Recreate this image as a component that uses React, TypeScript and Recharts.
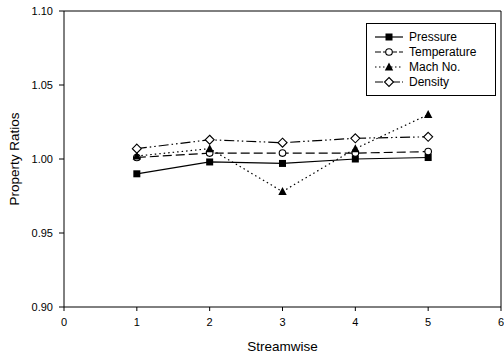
import React from 'react';
import { LineChart, Line, XAxis, YAxis, ReferenceLine } from 'recharts';

const streamwise = [1, 2, 3, 4, 5];
const pressure = [0.990, 0.998, 0.997, 1.000, 1.001];
const temperature = [1.001, 1.004, 1.004, 1.004, 1.005];
const machNo = [1.002, 1.007, 0.978, 1.007, 1.030];
const density = [1.007, 1.013, 1.011, 1.014, 1.015];
const xTicks = [0, 1, 2, 3, 4, 5, 6];
const yTicks = [0.9, 0.95, 1.0, 1.05, 1.1];

const data = streamwise.map((x, i) => ({
  x,
  pressure: pressure[i],
  temperature: temperature[i],
  mach: machNo[i],
  density: density[i],
}));

const FONT = '"Liberation Sans", Arial, sans-serif';

type Shape = 'square' | 'circle' | 'triangle' | 'diamond';

const Marker = ({ cx, cy, shape }: { cx: number; cy: number; shape: Shape }) => {
  if (cx == null || cy == null) return null;
  if (shape === 'square') return <rect x={cx - 3.5} y={cy - 3.5} width={7} height={7} fill="#000" />;
  if (shape === 'circle') return <circle cx={cx} cy={cy} r={3.3} fill="#fff" stroke="#000" strokeWidth={1.1} />;
  if (shape === 'triangle')
    return <path d={`M${cx},${cy - 4.5} L${cx + 4.2},${cy + 3.5} L${cx - 4.2},${cy + 3.5} Z`} fill="#000" />;
  return (
    <path
      d={`M${cx},${cy - 4.5} L${cx + 4.5},${cy} L${cx},${cy + 4.5} L${cx - 4.5},${cy} Z`}
      fill="#fff"
      stroke="#000"
      strokeWidth={1.1}
    />
  );
};

// legend dash is a tighter version of the line dash
const series: { key: string; name: string; dash?: string; legendDash?: string; shape: Shape }[] = [
  { key: 'pressure', name: 'Pressure', shape: 'square' },
  { key: 'temperature', name: 'Temperature', dash: '9 4', legendDash: '6 2', shape: 'circle' },
  { key: 'mach', name: 'Mach No.', dash: '1.5 3', legendDash: '1.5 2.5', shape: 'triangle' },
  { key: 'density', name: 'Density', dash: '10 3 1.5 3 1.5 3', legendDash: '8 2 1.5 2 1.5 2', shape: 'diamond' },
];

const LegendBox = () => (
  <div
    style={{
      position: 'absolute',
      left: 366,
      top: 23,
      width: 130,
      height: 73,
      border: '1px solid #000',
      background: '#fff',
      fontFamily: FONT,
      fontSize: 12,
      boxSizing: 'border-box',
      paddingTop: 5,
    }}
  >
    {series.map((s) => (
      <div key={s.key} style={{ display: 'flex', alignItems: 'center', height: 15 }}>
        <svg width={42} height={12}>
          <line x1={8} x2={36} y1={6} y2={6} stroke="#000" strokeWidth={1.2} strokeDasharray={s.legendDash} />
          <Marker cx={22} cy={6} shape={s.shape} />
        </svg>
        <span style={{ color: '#000' }}>{s.name}</span>
      </div>
    ))}
  </div>
);

export default function App() {
  return (
    <div style={{ position: 'absolute', left: 0, top: 0, width: 504, height: 357, background: '#fff' }}>
      <LineChart width={504} height={357} data={data} margin={{ top: 11, right: 3, left: 0, bottom: 0 }}>
        <XAxis
          dataKey="x"
          type="number"
          domain={[0, 6]}
          ticks={xTicks}
          interval={0}
          height={50}
          stroke="#000"
          tickSize={4}
          tickMargin={7}
          tick={{ fill: '#000', fontSize: 11, fontFamily: FONT }}
          label={{ value: 'Streamwise', position: 'insideBottom', offset: 6, fill: '#000', fontSize: 13.5, fontFamily: FONT }}
        />
        <YAxis
          type="number"
          domain={[0.9, 1.1]}
          ticks={yTicks}
          interval={0}
          width={64}
          stroke="#000"
          tickSize={5}
          tickMargin={6}
          tickFormatter={(v: number) => v.toFixed(2)}
          tick={{ fill: '#000', fontSize: 11, fontFamily: FONT }}
          label={{
            value: 'Property Ratios',
            angle: -90,
            position: 'insideLeft',
            offset: 14,
            fill: '#000',
            fontSize: 13.5,
            fontFamily: FONT,
            style: { textAnchor: 'middle' },
          }}
        />
        <ReferenceLine y={1.1} stroke="#000" />
        <ReferenceLine x={6} stroke="#000" />
        {series.map((s) => (
          <Line
            key={s.key}
            dataKey={s.key}
            name={s.name}
            type="linear"
            stroke="#000"
            strokeWidth={1.2}
            strokeDasharray={s.dash}
            dot={(p: any) => <Marker key={`${s.key}-${p.index}`} cx={p.cx} cy={p.cy} shape={s.shape} />}
            activeDot={false}
            isAnimationActive={false}
          />
        ))}
      </LineChart>
      <LegendBox />
    </div>
  );
}
